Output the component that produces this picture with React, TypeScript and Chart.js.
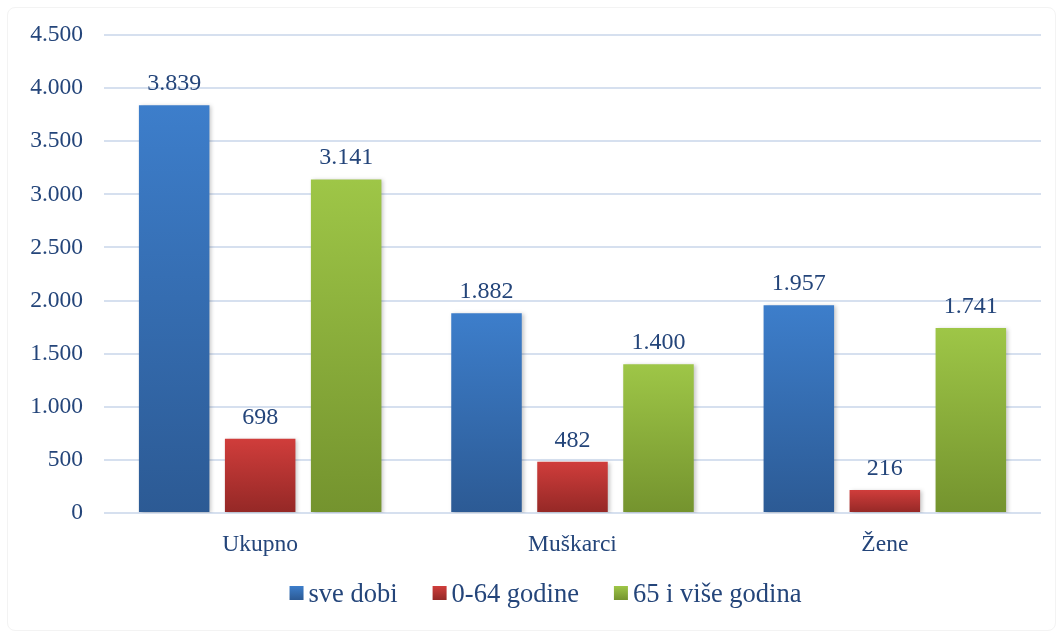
import React, { useEffect, useRef } from "react";
import { Chart, registerables } from "chart.js";

Chart.register(...registerables);

const categories = ["Ukupno", "Muškarci", "Žene"];
const seriesNames = ["sve dobi", "0-64 godine", "65 i više godina"];
const sveDobi = [3839, 1882, 1957];
const do64 = [698, 482, 216];
const od65 = [3141, 1400, 1741];
const yTicks = [0, 500, 1000, 1500, 2000, 2500, 3000, 3500, 4000, 4500];

const TEXT = "#24457a";
const FONT = "'Liberation Serif', 'Times New Roman', serif";

const gradStops: [string, string, string][] = [
  ["#3d7ecb", "#2c5a94", "#3569ad"],
  ["#d03d3b", "#942826", "#b83432"],
  ["#9ec647", "#74932e", "#8aaf3c"],
];

const fmt = (v: number) => v.toString().replace(/\B(?=(\d{3})+(?!\d))/g, ".");

function barGradient(idx: number) {
  return (ctx: any) => {
    const chart = ctx.chart;
    const y = chart.scales && chart.scales.y;
    if (!y || ctx.type !== "data" || ctx.raw == null) return gradStops[idx][2];
    const top = y.getPixelForValue(ctx.raw);
    const bottom = y.getPixelForValue(0);
    if (!isFinite(top) || !isFinite(bottom) || top === bottom) return gradStops[idx][2];
    const g = chart.ctx.createLinearGradient(0, top, 0, bottom);
    g.addColorStop(0, gradStops[idx][0]);
    g.addColorStop(1, gradStops[idx][1]);
    return g;
  };
}

const barShadow = {
  id: "barShadow",
  beforeDatasetsDraw(chart: any) {
    const ctx = chart.ctx;
    ctx.save();
    ctx.shadowColor = "rgba(0,0,0,0.22)";
    ctx.shadowBlur = 4;
    ctx.shadowOffsetX = 2;
    ctx.shadowOffsetY = 1;
  },
  afterDatasetsDraw(chart: any) {
    chart.ctx.restore();
  },
};

const valueLabels = {
  id: "valueLabels",
  afterDatasetsDraw(chart: any) {
    const ctx = chart.ctx;
    ctx.save();
    ctx.fillStyle = TEXT;
    ctx.font = `24px ${FONT}`;
    ctx.textAlign = "center";
    ctx.textBaseline = "alphabetic";
    chart.data.datasets.forEach((ds: any, di: number) => {
      const meta = chart.getDatasetMeta(di);
      meta.data.forEach((bar: any, i: number) => {
        ctx.fillText(fmt(ds.data[i]), bar.x, bar.y - 15);
      });
    });
    ctx.restore();
  },
};

const customLegend = {
  id: "customLegend",
  afterDraw(chart: any) {
    const ctx = chart.ctx;
    ctx.save();
    ctx.font = `26.5px ${FONT}`;
    const box = 14;
    const gapText = 5;
    const gapItem = 35;
    const widths = seriesNames.map((n) => ctx.measureText(n).width);
    const total =
      widths.reduce((a, b) => a + b, 0) + seriesNames.length * (box + gapText) + gapItem * (seriesNames.length - 1);
    let x = 545.5 - total / 2;
    const cy = 593;
    seriesNames.forEach((n, i) => {
      const g = ctx.createLinearGradient(0, cy - box / 2, 0, cy + box / 2);
      g.addColorStop(0, gradStops[i][0]);
      g.addColorStop(1, gradStops[i][1]);
      ctx.fillStyle = g;
      ctx.fillRect(x, cy - box / 2, box, box);
      x += box + gapText;
      ctx.fillStyle = TEXT;
      ctx.textBaseline = "alphabetic";
      ctx.textAlign = "left";
      ctx.fillText(n, x, cy + 8.5);
      x += widths[i] + gapItem;
    });
    ctx.restore();
  },
};

export default function App() {
  const ref = useRef<HTMLCanvasElement>(null);
  useEffect(() => {
    if (!ref.current) return;
    const data = [sveDobi, do64, od65];
    const chart = new Chart(ref.current, {
      type: "bar",
      data: {
        labels: categories,
        datasets: seriesNames.map((name, i) => ({
          label: name,
          data: data[i],
          backgroundColor: barGradient(i),
          borderWidth: 0,
          categoryPercentage: 0.826,
          barPercentage: 0.82,
        })),
      },
      options: {
        responsive: false,
        animation: false,
        layout: { padding: { top: 32, right: 17, left: 0, bottom: 0 } },
        plugins: {
          tooltip: { enabled: false },
          legend: { display: false },
        },
        scales: {
          x: {
            grid: { display: false },
            border: { display: false },
            ticks: { color: TEXT, font: { family: FONT, size: 23.5 }, padding: 10 },
            afterFit: (s: any) => {
              s.height = 120;
            },
          },
          y: {
            min: 0,
            max: 4500,
            afterBuildTicks: (s: any) => {
              s.ticks = yTicks.map((v) => ({ value: v }));
            },
            afterFit: (s: any) => {
              s.width = 104;
            },
            grid: { color: "#d6e0ef", lineWidth: 2, drawTicks: false },
            border: { display: false },
            ticks: {
              color: TEXT,
              font: { family: FONT, size: 23.5 },
              padding: 21,
              callback: (v: any) => fmt(Number(v)),
            },
          },
        },
      },
      plugins: [barShadow, valueLabels, customLegend],
    });
    return () => chart.destroy();
  }, []);
  return (
    <div style={{ position: "absolute", left: 0, top: 0, width: 1058, height: 633, background: "#fff" }}>
      <div style={{ position: "absolute", left: 7, top: 7, right: 2, bottom: 2, border: "1px solid #f3f3f3", borderRadius: 8 }} />
      <canvas ref={ref} width={1058} height={633} style={{ position: "absolute", left: 0, top: 0 }} />
    </div>
  );
}
